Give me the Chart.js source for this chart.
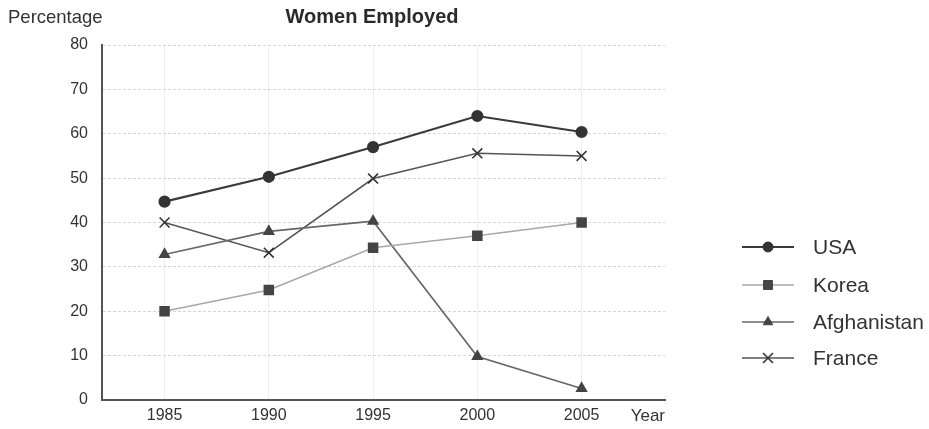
<!DOCTYPE html>
<html>
<head>
<meta charset="utf-8">
<script src="https://cdn.jsdelivr.net/npm/chart.js@4"></script>
<style>
  html, body { margin: 0; padding: 0; background: #fff; }
  #wrap { width: 929px; height: 429px; position: relative; }
</style>
</head>
<body>
<div id="wrap"><canvas id="chart"></canvas></div>
<script>
const years = [1985, 1990, 1995, 2000, 2005];
const yTicks = [0, 10, 20, 30, 40, 50, 60, 70, 80];
const usa = [44.7, 50.3, 57, 64, 60.4];
const korea = [20, 24.8, 34.3, 37, 40];
const afghanistan = [32.8, 38, 40.3, 9.8, 2.6];
const france = [40, 33.2, 49.9, 55.6, 55];

const FONT = '"Liberation Sans", Arial, sans-serif';
const h = Chart.helpers;

function pts(vals) {
  return vals.map((v, i) => ({ x: years[i], y: v }));
}

const datasets = [
  { label: 'USA', data: pts(usa), borderColor: '#3a3a3a', borderWidth: 2.2,
    pointStyle: 'circle', pointRadius: 5, backgroundColor: '#333', pointBorderColor: '#333' },
  { label: 'Korea', data: pts(korea), borderColor: '#a8a8a8', borderWidth: 1.6,
    pointStyle: 'rect', pointRadius: 6.3, backgroundColor: '#444', pointBorderColor: '#444' },
  { label: 'Afghanistan', data: pts(afghanistan), borderColor: '#666', borderWidth: 1.6,
    pointStyle: 'triangle', pointRadius: 5.5, backgroundColor: '#444', pointBorderColor: '#444' },
  { label: 'France', data: pts(france), borderColor: '#555', borderWidth: 1.6,
    pointStyle: 'crossRot', pointRadius: 7, backgroundColor: '#333', pointBorderColor: '#333', pointBorderWidth: 1.6 },
];
datasets.forEach((d) => { d.fill = false; d.tension = 0; d.pointHoverRadius = d.pointRadius; });

// extra texts and the right-hand legend
const decor = {
  id: 'decor',
  afterDraw(chart) {
    const ctx = chart.ctx;
    const area = chart.chartArea;
    ctx.save();
    ctx.fillStyle = '#2a2a2a';
    ctx.textBaseline = 'middle';
    ctx.font = 'bold 20px ' + FONT;
    ctx.textAlign = 'center';
    ctx.fillText('Women Employed', 372, 17);
    ctx.fillStyle = '#333';
    ctx.font = '18.5px ' + FONT;
    ctx.textAlign = 'left';
    ctx.fillText('Percentage', 8, 18);
    ctx.font = '17px ' + FONT;
    ctx.textAlign = 'right';
    ctx.fillText('Year', area.right, 416);

    const rows = [247, 285, 322, 358];
    chart.data.datasets.forEach((d, i) => {
      const y = rows[i];
      ctx.strokeStyle = d.borderColor;
      ctx.lineWidth = d.borderWidth;
      ctx.beginPath();
      ctx.moveTo(742, y);
      ctx.lineTo(794, y);
      ctx.stroke();
      ctx.fillStyle = d.backgroundColor;
      ctx.strokeStyle = d.pointBorderColor;
      ctx.lineWidth = d.pointBorderWidth || 1;
      h.drawPoint(ctx, { pointStyle: d.pointStyle, radius: d.pointRadius, rotation: 0, borderWidth: d.pointBorderWidth || 1 }, 768, y);
      ctx.fillStyle = '#333';
      ctx.font = '21px ' + FONT;
      ctx.textAlign = 'left';
      ctx.fillText(d.label, 813, y + 1);
    });
    ctx.restore();
  },
};

new Chart(document.getElementById('chart'), {
  type: 'line',
  data: { datasets },
  plugins: [decor],
  options: {
    responsive: true,
    maintainAspectRatio: false,
    animation: false,
    layout: { padding: { left: 0, right: 264, top: 45, bottom: 0 } },
    plugins: {
      legend: { display: false },
      title: { display: false },
      tooltip: { enabled: false },
    },
    scales: {
      x: {
        type: 'linear',
        min: 1982,
        max: 2009,
        afterBuildTicks: (scale) => { scale.ticks = years.map((v) => ({ value: v })); },
        afterFit: (scale) => { scale.height = 29; },
        ticks: { color: '#333', font: { family: FONT, size: 16 }, padding: 6, callback: (v) => String(v) },
        grid: { color: '#eeeeee', lineWidth: 1, drawTicks: false },
        border: { color: '#555', width: 2 },
      },
      y: {
        min: 0,
        max: 80,
        afterBuildTicks: (scale) => { scale.ticks = yTicks.map((v) => ({ value: v })); },
        afterFit: (scale) => { scale.width = 102; },
        ticks: { color: '#333', font: { family: FONT, size: 16 }, padding: 14 },
        grid: { color: '#d6d6d6', lineWidth: 1, drawTicks: false },
        border: { color: '#555', width: 2, dash: [3, 2] },
      },
    },
  },
});
</script>
</body>
</html>
